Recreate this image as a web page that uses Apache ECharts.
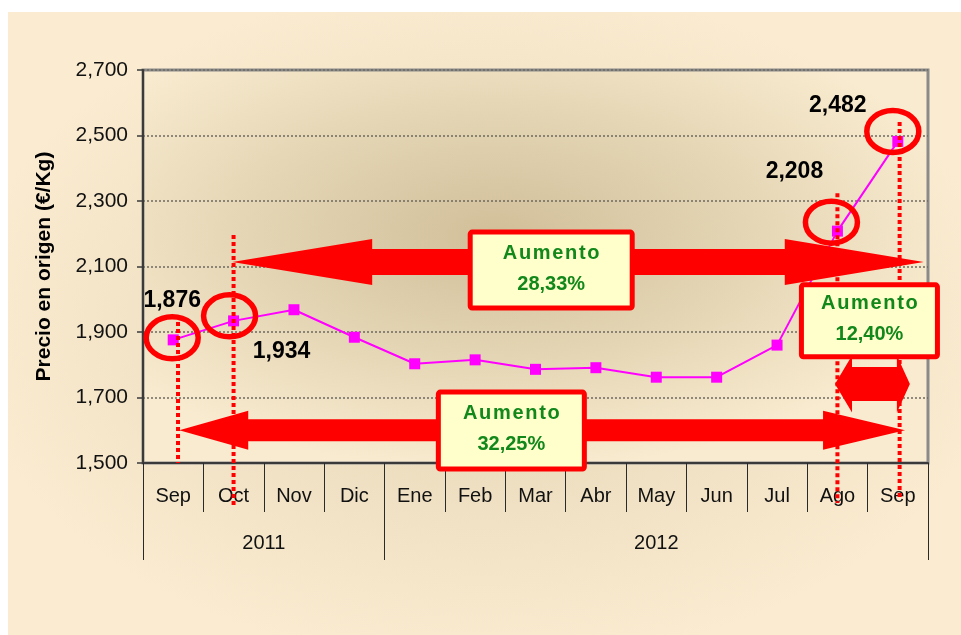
<!DOCTYPE html>
<html>
<head>
<meta charset="utf-8">
<script src="https://cdn.jsdelivr.net/npm/echarts@6/dist/echarts.min.js"></script>
<style>
  html, body { margin: 0; padding: 0; background: #fff; }
  #chart { width: 961px; height: 635px; }
</style>
</head>
<body>
<div id="chart"></div>
<script>
// --- data ---
const months = ['Sep', 'Oct', 'Nov', 'Dic', 'Ene', 'Feb', 'Mar', 'Abr', 'May', 'Jun', 'Jul', 'Ago', 'Sep'];
const years = ['2011', '2012'];
const monthsPerYear = [4, 9];
const prices = [1.876, 1.934, 1.968, 1.884, 1.803, 1.815, 1.786, 1.791, 1.762, 1.762, 1.860, 2.208, 2.482];
const yTicks = [1.5, 1.7, 1.9, 2.1, 2.3, 2.5, 2.7];
const increases = ['28,33%', '32,25%', '12,40%'];

const FONT = "'Liberation Sans', Arial, sans-serif";
const RED = '#FF0000';
const GREEN = '#12871A';

function fmt(v) {
    return v.toFixed(3).replace('.', ',');
}

// year boundaries and centres on the month scale
const yearEdges = [0];
monthsPerYear.forEach(n => yearEdges.push(yearEdges[yearEdges.length - 1] + n));
const yearCentres = years.map((y, i) => (yearEdges[i] + yearEdges[i + 1]) / 2);
const monthEdges = months.map((m, i) => i).concat([months.length]);

// labelled points (value label offsets relative to the marker)
const labelOffsets = { 0: [-1, -39], 1: [48, 31], 11: [-43, -59], 12: [-60, -36] };

const seriesData = prices.map((v, i) => {
    const off = labelOffsets[i];
    if (!off) return v;
    return {
        value: v,
        label: {
            show: true, position: 'inside', offset: off,
            formatter: p => fmt(p.value),
            fontFamily: FONT, fontWeight: 'bold', fontSize: 23, color: '#000'
        }
    };
});

const chart = echarts.init(document.getElementById('chart'));

const option = {
    backgroundColor: '#fff',
    animation: false,
    grid: {
        left: 143, top: 70, right: 33, bottom: 172,
        outerBoundsMode: 'none',
        show: true,
        borderColor: '#8a8a8a',
        borderWidth: 3,
        backgroundColor: 'transparent'
    },
    xAxis: [{
        type: 'category',
        data: months,
        boundaryGap: true,
        axisLine: { lineStyle: { color: '#3a3a3a', width: 2 } },
        axisTick: { show: false },
        axisLabel: { interval: 0, margin: 23, fontSize: 20, color: '#111', fontFamily: FONT }
    }, {
        // month separators
        type: 'value',
        min: 0,
        max: months.length,
        position: 'bottom',
        axisLine: { show: false },
        splitLine: { show: false },
        axisTick: { show: true, customValues: monthEdges, length: 49, lineStyle: { color: '#2a2a2a', width: 1 } },
        axisLabel: { show: false }
    }, {
        // year row
        type: 'value',
        min: 0,
        max: months.length,
        position: 'bottom',
        axisLine: { show: false },
        splitLine: { show: false },
        axisTick: { show: true, customValues: yearEdges, length: 97, lineStyle: { color: '#2a2a2a', width: 1 } },
        axisLabel: {
            customValues: yearCentres,
            margin: 70,
            fontSize: 20, color: '#111', fontFamily: FONT,
            formatter: v => years[yearCentres.indexOf(v)] || ''
        }
    }],
    yAxis: {
        type: 'value',
        min: yTicks[0],
        max: yTicks[yTicks.length - 1],
        interval: Math.round((yTicks[1] - yTicks[0]) * 1000) / 1000,
        name: 'Precio en origen (€/Kg)',
        nameLocation: 'middle',
        nameGap: 88,
        nameTextStyle: { fontFamily: FONT, fontWeight: 'bold', fontSize: 21, color: '#000' },
        axisLine: { show: true, lineStyle: { color: '#3a3a3a', width: 2 } },
        axisTick: { show: true, length: 6, lineStyle: { color: '#3a3a3a', width: 1.5 } },
        axisLabel: { formatter: fmt, fontSize: 21, color: '#111', fontFamily: FONT, margin: 15 },
        splitLine: { lineStyle: { color: '#6e6a62', width: 1.5, type: [2, 2] } }
    },
    series: [{
        type: 'line',
        data: seriesData,
        color: '#FF00FF',
        symbol: 'rect',
        symbolSize: 11,
        lineStyle: { width: 2, color: '#FF00FF' },
        itemStyle: { color: '#FF00FF' },
        z: 3
    }]
};

chart.setOption(option);

// --- annotations anchored on the chart scales ---
const P = (i, v) => chart.convertToPixel({ seriesIndex: 0 }, [i, v]);
const x0 = P(0, yTicks[0])[0];
const step = P(1, yTicks[0])[0] - x0;
const X = f => x0 + f * step;
const Y = v => P(0, v)[1];
const plotTop = Y(yTicks[yTicks.length - 1]);
const plotBottom = Y(yTicks[0]);
const plotLeft = x0 - step / 2;
const plotW = step * months.length;
const plotH = plotBottom - plotTop;

function doubleArrow(xl, xr, y, headL, headR, headHalf, shaftHalf) {
    return {
        type: 'polygon', z: 20, silent: true,
        shape: {
            points: [
                [xl, y], [xl + headL, y - headHalf], [xl + headL, y - shaftHalf],
                [xr - headR, y - shaftHalf], [xr - headR, y - headHalf], [xr, y],
                [xr - headR, y + headHalf], [xr - headR, y + shaftHalf],
                [xl + headL, y + shaftHalf], [xl + headL, y + headHalf]
            ]
        },
        style: { fill: RED }
    };
}

function box(cx, cy, w, h, pct) {
    return [{
        type: 'rect', z: 30, silent: true,
        shape: { x: cx - w / 2, y: cy - h / 2, width: w, height: h, r: 2 },
        style: { fill: '#FFFFCC', stroke: RED, lineWidth: 5 }
    }, {
        type: 'text', z: 31, silent: true,
        style: { text: 'Aumento'.split('').join('\u200A'), x: cx, y: cy - 17, align: 'center', verticalAlign: 'middle',
                 font: 'bold 20px ' + FONT, fill: GREEN }
    }, {
        type: 'text', z: 31, silent: true,
        style: { text: pct, x: cx, y: cy + 14, align: 'center', verticalAlign: 'middle',
                 font: 'bold 20px ' + FONT, fill: GREEN }
    }];
}

function dotted(f, vTop, vBottom) {
    return {
        type: 'line', z: 15, silent: true,
        shape: { x1: X(f), y1: Y(vTop), x2: X(f), y2: Y(vBottom) },
        style: { stroke: RED, lineWidth: 4, lineDash: [4, 3] }
    };
}

function ring(i, dx, dy) {
    const p = P(i, prices[i]);
    return {
        type: 'ellipse', z: 25, silent: true,
        shape: { cx: p[0] + dx, cy: p[1] + dy, rx: 26, ry: 21 },
        style: { fill: null, stroke: RED, lineWidth: 5.5 }
    };
}

const graphics = [
    // chart area background
    {
        type: 'rect', z: -20, silent: true,
        x: 8, y: 12, scaleX: (961 - 8) / (635 - 12),
        shape: { x: 0, y: 0, width: 635 - 12, height: 635 - 12 },
        style: {
            fill: {
                type: 'radial', x: 0.5, y: 0.5, r: 0.55,
                colorStops: [
                    { offset: 0, color: '#E3D3B1' },
                    { offset: 0.55, color: '#F0E1C4' },
                    { offset: 1, color: '#FBECD1' }
                ]
            }
        }
    },
    // plot area gradient
    {
        type: 'rect', z: -10, silent: true,
        x: plotLeft, y: plotTop, scaleX: plotW / plotH,
        shape: { x: 0, y: 0, width: plotH, height: plotH },
        style: {
            fill: {
                type: 'radial', x: 0.45, y: 0.42, r: 0.6,
                colorStops: [
                    { offset: 0, color: '#D1BF99' },
                    { offset: 0.5, color: '#E3D4B3' },
                    { offset: 1, color: '#F9EBCF' }
                ]
            }
        }
    },
    dotted(0.08, 1.952, yTicks[0]),
    dotted(1, 2.196, 1.372),
    dotted(11, 2.324, 1.378),
    dotted(12.03, 2.541, 1.387),
    doubleArrow(X(0.977), X(12.43), Y(2.114), 140, 139, 23, 13),
    doubleArrow(X(0.1), X(12.12), Y(1.6), 69, 82, 19.5, 11),
    doubleArrow(X(10.96), X(12.2), Y(1.741), 17, 13, 28.5, 17),
    ring(0, -1, -2),
    ring(1, -4, -5),
    ring(11, -6, -9),
    ring(12, -5, -10)
].concat(
    box(X(6.26), Y(2.089), 162, 76, increases[0]),
    box(X(5.6), Y(1.599), 146, 77, increases[1]),
    box(X(11.53), Y(1.934), 136, 72, increases[2])
);

chart.setOption({ graphic: graphics });
</script>
</body>
</html>
